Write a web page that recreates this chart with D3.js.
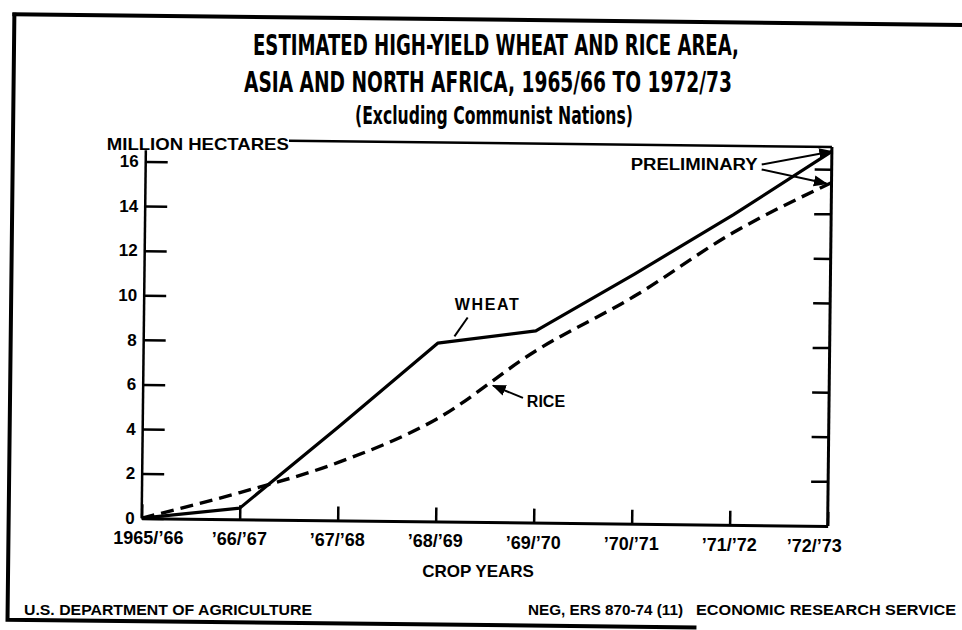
<!DOCTYPE html>
<html>
<head>
<meta charset="utf-8">
<script src="https://cdn.jsdelivr.net/npm/d3@7"></script>
<style>
  body { margin: 0; background: #fff; }
  svg { display: block; }
  text { font-family: 'Liberation Sans', Arial, Helvetica, sans-serif; font-weight: bold; fill: #000; }
  .title { font-family: 'Liberation Sans Narrow', 'DejaVu Sans Condensed', 'Liberation Sans', sans-serif; }
</style>
</head>
<body>
<svg width="962" height="630"></svg>
<script>
// values (million hectares)
const cropYears = ['1965/’66', '’66/’67', '’67/’68', '’68/’69', '’69/’70', '’70/’71', '’71/’72', '’72/’73'];
const wheatArea = [0, 0.5, 4.2, 8.0, 8.6, 11.2, 13.9, 16.8];
const riceArea = [0, 1.2, 2.6, 4.6, 7.7, 10.2, 13.1, 15.4];
const yTicks = [0, 2, 4, 6, 8, 10, 12, 14, 16];

const titleLines = [
  'ESTIMATED HIGH-YIELD WHEAT AND RICE AREA,',
  'ASIA AND NORTH AFRICA, 1965/66 TO 1972/73',
  '(Excluding Communist Nations)'
];

const svg = d3.select('svg');
const width = +svg.attr('width');
const height = +svg.attr('height');

// the scanned print is a little crooked: the ruled lines lean, the pasted-on lettering stays level
const tilt = 0.65;
const cx = width / 2, cy = height / 2;
const rad = tilt * Math.PI / 180;
const turn = (px, py) => [
  cx + (px - cx) * Math.cos(rad) - (py - cy) * Math.sin(rad),
  cy + (px - cx) * Math.sin(rad) + (py - cy) * Math.cos(rad)
];

const page = svg.append('g')
  .attr('transform', `rotate(${tilt}, ${cx}, ${cy})`);
const lettering = svg.append('g');

svg.append('defs').append('marker')
  .attr('id', 'head')
  .attr('viewBox', '0 0 10 10')
  .attr('refX', 9).attr('refY', 5)
  .attr('markerWidth', 7).attr('markerHeight', 7)
  .attr('orient', 'auto')
  .append('path')
    .attr('d', 'M0,1 L10,5 L0,9 z')
    .attr('fill', '#000');

// frame of the sheet
page.append('path')
  .attr('d', `M9,19.5 H${width}`)
  .attr('stroke', '#000').attr('stroke-width', 4).attr('fill', 'none');
page.append('path')
  .attr('d', 'M11,18 V625 H700')
  .attr('stroke', '#000').attr('stroke-width', 4).attr('fill', 'none');

// titles
lettering.selectAll('.title').data(titleLines)
  .enter().append('text')
    .attr('class', 'title')
    .attr('x', (d, i) => [496, 488, 494][i])
    .attr('y', (d, i) => [55, 92, 124][i])
    .attr('text-anchor', 'middle')
    .attr('font-size', (d, i) => i < 2 ? 28 : 25)
    .attr('textLength', (d, i) => [486, 488, 278][i])
    .attr('lengthAdjust', 'spacingAndGlyphs')
    .text(d => d);

const margin = { top: 143, right: 132, bottom: 108, left: 144 };
const innerWidth = width - margin.left - margin.right;
const innerHeight = height - margin.top - margin.bottom;

const x = d3.scalePoint()
  .domain(cropYears)
  .range([0, innerWidth]);

const y = d3.scaleLinear()
  .domain([0, 17])
  .range([innerHeight, 0]);

const g = page.append('g')
  .attr('transform', `translate(${margin.left},${margin.top})`);

// place a level text at a point given in the (tilted) plot frame
const label = (gx, gy, str, size) => {
  const [px, py] = turn(margin.left + gx, margin.top + gy);
  const t = lettering.append('text')
    .attr('x', px).attr('y', py)
    .attr('font-size', size)
    .text(str);
  // pin the run to its natural length
  t.attr('textLength', t.node().getComputedTextLength());
  return t;
};

// left axis
const yAxisG = g.append('g')
  .call(d3.axisLeft(y).tickValues(yTicks).tickSize(-22).tickSizeOuter(0).tickFormat(''));
yAxisG.select('.domain').remove();
yAxisG.selectAll('line').attr('stroke-width', 2.5);

g.append('line')
  .attr('x1', 0).attr('x2', 0)
  .attr('y1', y(16.5)).attr('y2', y(0))
  .attr('stroke', '#000').attr('stroke-width', 2.5);

yTicks.forEach(v => {
  label(-7, y(v), v, 17)
    .attr('text-anchor', 'end')
    .attr('dy', '0.34em');
});

// right axis, ticks only
const rightG = g.append('g')
  .attr('transform', `translate(${innerWidth},0)`)
  .call(d3.axisRight(y).tickValues(yTicks.filter(d => d > 0)).tickSize(-17).tickSizeOuter(0).tickFormat(''));
rightG.select('.domain').remove();
rightG.selectAll('line').attr('stroke-width', 2.5);
g.append('line')
  .attr('x1', innerWidth).attr('x2', innerWidth)
  .attr('y1', y(17)).attr('y2', y(0))
  .attr('stroke', '#000').attr('stroke-width', 3);

// bottom axis
const xAxisG = g.append('g')
  .attr('transform', `translate(0,${innerHeight})`)
  .call(d3.axisBottom(x).tickSize(-14).tickSizeOuter(0).tickFormat(''));
xAxisG.select('.domain').attr('stroke-width', 3);
xAxisG.selectAll('line').attr('stroke-width', 2.5);

cropYears.forEach((c, i) => {
  const shift = i === 0 ? 7 : i === cropYears.length - 1 ? -13 : 0;
  label(x(c) + shift, innerHeight + 26, c, 18)
    .attr('text-anchor', 'middle');
});

label(innerWidth / 2 - 6, innerHeight + 55, 'CROP YEARS', 17)
  .attr('text-anchor', 'middle');

// unit label with the top rule running on from it
label(-39, y(17) + 11, 'MILLION HECTARES', 17)
  .attr('textLength', 182)
  .attr('lengthAdjust', 'spacingAndGlyphs');

g.append('line')
  .attr('x1', -39 + 182).attr('x2', innerWidth)
  .attr('y1', y(17)).attr('y2', y(17))
  .attr('stroke', '#000').attr('stroke-width', 2.5);

// the two series
const line = d3.line()
  .x((d, i) => x(cropYears[i]))
  .y(d => y(d));

g.append('path')
  .datum(wheatArea)
  .attr('d', line)
  .attr('fill', 'none')
  .attr('stroke', '#000')
  .attr('stroke-width', 3.2)
  .attr('stroke-linejoin', 'round');

g.append('path')
  .datum(riceArea)
  .attr('d', line.curve(d3.curveMonotoneX))
  .attr('fill', 'none')
  .attr('stroke', '#000')
  .attr('stroke-width', 3.4)
  .attr('stroke-dasharray', '13,7');

// labels pointing at the lines
const along = (series, i, t) => ({
  x: x(cropYears[i]) + t * (x(cropYears[i + 1]) - x(cropYears[i])),
  y: y(series[i] + t * (series[i + 1] - series[i]))
});

const w = along(wheatArea, 3, 0.15);
g.append('line')
  .attr('x1', w.x + 15).attr('y1', w.y - 24)
  .attr('x2', w.x + 2).attr('y2', w.y - 5)
  .attr('stroke', '#000').attr('stroke-width', 2);
label(w.x + 2, w.y - 31, 'WHEAT', 16)
  .attr('textLength', 64)
  .attr('lengthAdjust', 'spacing');

const r = along(riceArea, 3, 0.55);
g.append('line')
  .attr('x1', r.x + 32).attr('y1', r.y + 16)
  .attr('x2', r.x + 2).attr('y2', r.y + 4)
  .attr('stroke', '#000').attr('stroke-width', 2)
  .attr('marker-end', 'url(#head)');
label(r.x + 36, r.y + 25, 'RICE', 16);

const last = cropYears.length - 1;
const pre = { x: x(cropYears[last]) - 70, y: y(16) };
label(pre.x - 131, pre.y + 3, 'PRELIMINARY', 16)
  .attr('textLength', 127)
  .attr('lengthAdjust', 'spacingAndGlyphs');
g.append('line')
  .attr('x1', pre.x).attr('y1', pre.y - 4)
  .attr('x2', x(cropYears[last])).attr('y2', y(wheatArea[last]))
  .attr('stroke', '#000').attr('stroke-width', 2)
  .attr('marker-end', 'url(#head)');
g.append('line')
  .attr('x1', pre.x).attr('y1', pre.y + 1)
  .attr('x2', x(cropYears[last]) - 5).attr('y2', y(riceArea[last]) + 1)
  .attr('stroke', '#000').attr('stroke-width', 2)
  .attr('marker-end', 'url(#head)');

// footer
lettering.append('text')
  .attr('x', 24).attr('y', 615)
  .attr('font-size', 15.5)
  .attr('textLength', 288)
  .attr('lengthAdjust', 'spacingAndGlyphs')
  .text('U.S. DEPARTMENT OF AGRICULTURE');
lettering.append('text')
  .attr('x', 528).attr('y', 615)
  .attr('font-size', 15.5)
  .attr('textLength', 155)
  .attr('lengthAdjust', 'spacingAndGlyphs')
  .text('NEG, ERS 870-74 (11)');
lettering.append('text')
  .attr('x', 696).attr('y', 615)
  .attr('font-size', 15.5)
  .attr('textLength', 260)
  .attr('lengthAdjust', 'spacingAndGlyphs')
  .text('ECONOMIC RESEARCH SERVICE');
</script>
</body>
</html>
